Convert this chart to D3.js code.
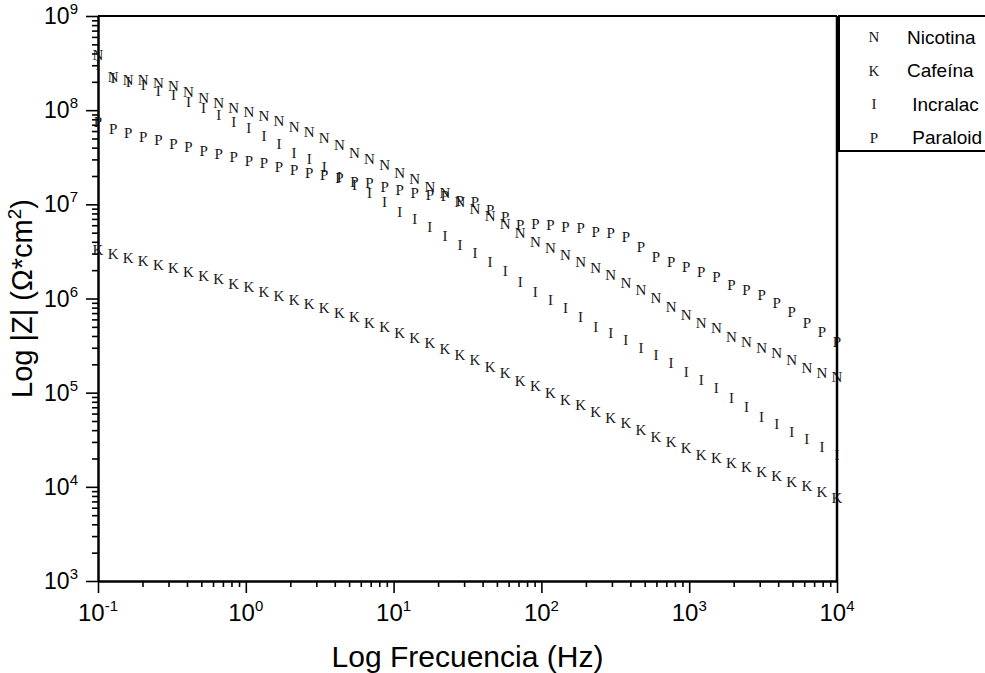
<!DOCTYPE html>
<html>
<head>
<meta charset="utf-8">
<script src="https://cdn.jsdelivr.net/npm/d3@7"></script>
<style>
  body { margin: 0; background: #fff; }
  svg { display: block; }
  .lbl { font-family: "Liberation Sans", Arial, sans-serif; fill: #000; }
  .mk { font-family: "Liberation Serif", "Times New Roman", serif; fill: #161616; }
</style>
</head>
<body>
<div id="chart"></div>
<script>
  // Frecuencias (Hz), 50 puntos logaritmicos de 0.1 a 10 kHz
  const frequencies = [
    0.1, 0.1265, 0.160, 0.2024, 0.256, 0.3237, 0.4095, 0.518, 0.6551, 0.8286,
    1.048, 1.326, 1.677, 2.121, 2.683, 3.393, 4.292, 5.429, 6.866, 8.685,
    10.99, 13.89, 17.58, 22.23, 28.12, 35.56, 44.98, 56.9, 71.97, 91.03,
    115.1, 145.6, 184.2, 232.9, 294.7, 372.8, 471.5, 596.4, 754.4, 954.2,
    1207, 1526, 1931, 2442, 3089, 3907, 4942, 6251, 7906, 10000
  ]

  // |Z| (Ohm*cm2) de cada recubrimiento
  const nicotina = [
    3.86e8, 2.25e8, 2.09e8, 2.09e8, 1.94e8, 1.81e8, 1.56e8, 1.35e8, 1.19e8, 1.05e8,
    9.57e7, 8.67e7, 7.67e7, 6.63e7, 5.87e7, 5.06e7, 4.27e7, 3.51e7, 3.03e7, 2.62e7,
    2.15e7, 1.86e7, 1.53e7, 1.32e7, 1.06e7, 8.92e6, 7.52e6, 6.18e6, 4.96e6, 3.98e6,
    3.44e6, 2.90e6, 2.44e6, 2.11e6, 1.78e6, 1.46e6, 1.23e6, 1.01e6, 8.12e5, 6.68e5,
    5.50e5, 4.86e5, 3.90e5, 3.45e5, 2.98e5, 2.64e5, 2.22e5, 1.83e5, 1.62e5, 1.47e5
  ]
  const cafeina = [
    3.27e6, 2.97e6, 2.69e6, 2.50e6, 2.27e6, 2.11e6, 1.91e6, 1.73e6, 1.61e6, 1.43e6,
    1.32e6, 1.17e6, 1.06e6, 9.64e5, 8.75e5, 7.93e5, 7.02e5, 6.37e5, 5.50e5, 4.98e5,
    4.31e5, 3.81e5, 3.37e5, 2.91e5, 2.51e5, 2.22e5, 1.87e5, 1.62e5, 1.33e5, 1.18e5,
    9.93e4, 8.36e4, 7.40e4, 6.24e4, 5.38e4, 4.76e4, 4.02e4, 3.38e4, 2.99e4, 2.59e4,
    2.18e4, 2.02e4, 1.79e4, 1.63e4, 1.44e4, 1.30e4, 1.13e4, 1.02e4, 8.81e3, 7.62e3
  ]
  const incralac = [
    3.02e8, 2.20e8, 1.99e8, 1.85e8, 1.60e8, 1.45e8, 1.22e8, 1.05e8, 8.89e7, 7.48e7,
    6.47e7, 5.32e7, 4.37e7, 3.51e7, 3.03e7, 2.49e7, 1.95e7, 1.60e7, 1.32e7, 1.06e7,
    8.29e6, 6.99e6, 5.74e6, 4.61e6, 3.70e6, 3.04e6, 2.44e6, 1.96e6, 1.50e6, 1.17e6,
    9.64e5, 7.93e5, 6.37e5, 4.99e5, 4.31e5, 3.62e5, 2.98e5, 2.51e5, 2.07e5, 1.66e5,
    1.36e5, 1.12e5, 8.79e4, 7.06e4, 5.53e4, 4.65e4, 3.82e4, 3.22e4, 2.65e4, 2.18e4
  ]
  const paraloid = [
    7.48e7, 6.31e7, 5.72e7, 5.19e7, 4.82e7, 4.37e7, 4.06e7, 3.68e7, 3.42e7, 3.18e7,
    2.89e7, 2.75e7, 2.49e7, 2.32e7, 2.15e7, 2.05e7, 1.91e7, 1.73e7, 1.69e7, 1.53e7,
    1.42e7, 1.32e7, 1.26e7, 1.23e7, 1.08e7, 1.06e7, 8.71e6, 7.35e6, 6.04e6, 6.18e6,
    6.04e6, 5.74e6, 5.61e6, 5.08e6, 4.96e6, 4.50e6, 3.52e6, 2.76e6, 2.44e6, 2.16e6,
    1.91e6, 1.69e6, 1.39e6, 1.23e6, 1.09e6, 8.95e5, 7.19e5, 5.50e5, 4.41e5, 3.45e5
  ]

  const seriesNames = ['Nicotina', 'Cafeína', ' Incralac', ' Paraloid']
  const seriesSymbols = ['N', 'K', 'I', 'P']
  const seriesValues = [nicotina, cafeina, incralac, paraloid]

  const xMajor = [0.1, 1, 10, 100, 1000, 10000]
  const xExponents = ['-1', '0', '1', '2', '3', '4']
  const yMajor = [1e3, 1e4, 1e5, 1e6, 1e7, 1e8, 1e9]
  const yExponents = ['3', '4', '5', '6', '7', '8', '9']

  const width = 985, height = 673
  const margin = { top: 16, right: 148, bottom: 92, left: 98 }

  const svg = d3.select('#chart').append('svg')
    .attr('width', width)
    .attr('height', height)

  const x = d3.scaleLog()
    .domain([0.1, 1e4])
    .range([margin.left, width - margin.right])

  const y = d3.scaleLog()
    .domain([1e3, 1e9])
    .range([height - margin.bottom, margin.top])

  const isMinor = v => Math.abs(Math.log10(v) - Math.round(Math.log10(v))) > 1e-6
  const xMinor = x.ticks().filter(isMinor)
  const yMinor = y.ticks().filter(isMinor)

  const styleAxis = g => {
    g.selectAll('path').attr('stroke', '#000').attr('stroke-width', 2)
    g.selectAll('line').attr('stroke', '#000').attr('stroke-width', 1.6)
  }

  // Eje X: ticks mayores y menores
  svg.append('g')
    .attr('transform', `translate(0,${y.range()[0]})`)
    .call(d3.axisBottom(x).tickValues(xMinor).tickSize(6).tickSizeOuter(0).tickFormat(''))
    .call(styleAxis)
  svg.append('g')
    .attr('transform', `translate(0,${y.range()[0]})`)
    .call(d3.axisBottom(x).tickValues(xMajor).tickSize(12).tickSizeOuter(0).tickFormat(''))
    .call(styleAxis)

  // Eje Y
  svg.append('g')
    .attr('transform', `translate(${x.range()[0]},0)`)
    .call(d3.axisLeft(y).tickValues(yMinor).tickSize(6).tickSizeOuter(0).tickFormat(''))
    .call(styleAxis)
  svg.append('g')
    .attr('transform', `translate(${x.range()[0]},0)`)
    .call(d3.axisLeft(y).tickValues(yMajor).tickSize(12).tickSizeOuter(0).tickFormat(''))
    .call(styleAxis)

  // Etiquetas 10^n del eje X
  const xl = svg.append('g').selectAll('text')
    .data(xMajor)
    .join('text')
    .attr('class', 'lbl')
    .attr('x', d => x(d))
    .attr('y', 621)
    .attr('text-anchor', 'middle')
    .attr('font-size', 24)
  xl.append('tspan').text('10')
  xl.append('tspan').attr('dy', -10).attr('font-size', 15).text((d, i) => xExponents[i])

  // Etiquetas 10^n del eje Y
  const yl = svg.append('g').selectAll('text')
    .data(yMajor)
    .join('text')
    .attr('class', 'lbl')
    .attr('x', 78)
    .attr('y', d => y(d) + 8)
    .attr('text-anchor', 'end')
    .attr('font-size', 23)
  yl.append('tspan').text('10')
  yl.append('tspan').attr('dy', -10).attr('font-size', 15).text((d, i) => yExponents[i])

  // Titulos de ejes
  svg.append('text')
    .attr('class', 'lbl')
    .attr('x', (x.range()[0] + x.range()[1]) / 2)
    .attr('y', 667)
    .attr('text-anchor', 'middle')
    .attr('font-size', 30)
    .text('Log Frecuencia (Hz)')

  const yt = svg.append('text')
    .attr('class', 'lbl')
    .attr('transform', `translate(32,${(y.range()[0] + y.range()[1]) / 2}) rotate(-90)`)
    .attr('text-anchor', 'middle')
    .attr('font-size', 29)
  yt.append('tspan').text('Log |Z| (Ω*cm')
  yt.append('tspan').attr('dy', -11).attr('font-size', 19).text('2')
  yt.append('tspan').attr('dy', 11).text(')')

  // Marcadores con letras
  seriesValues.forEach((vals, s) => {
    svg.append('g')
      .selectAll('text')
      .data(vals.map((v, i) => ({ f: frequencies[i], z: v })))
      .join('text')
      .attr('class', 'mk')
      .attr('x', d => x(d.f))
      .attr('y', d => y(d.z))
      .attr('dy', '0.34em')
      .attr('text-anchor', 'middle')
      .attr('font-size', 15)
      .text(seriesSymbols[s])
  })

  // Marco superior y derecho (encima de los marcadores)
  svg.append('line')
    .attr('x1', x.range()[0]).attr('x2', x.range()[1])
    .attr('y1', y.range()[1]).attr('y2', y.range()[1])
    .attr('stroke', '#000').attr('stroke-width', 2)
  svg.append('line')
    .attr('x1', x.range()[1]).attr('x2', x.range()[1])
    .attr('y1', y.range()[1]).attr('y2', y.range()[0])
    .attr('stroke', '#000').attr('stroke-width', 2.5)

  // Leyenda
  const legend = svg.append('g')
  legend.append('rect')
    .attr('x', 839).attr('y', 16)
    .attr('width', 160).attr('height', 135)
    .attr('fill', '#fff')
    .attr('stroke', '#000').attr('stroke-width', 2)

  const rows = legend.selectAll('g.row')
    .data(seriesNames)
    .join('g')
    .attr('class', 'row')
    .attr('transform', (d, i) => `translate(0,${37 + i * 33.6})`)
  rows.append('text')
    .attr('class', 'mk')
    .attr('x', 874)
    .attr('dy', '0.34em')
    .attr('text-anchor', 'middle')
    .attr('font-size', 15)
    .text((d, i) => seriesSymbols[i])
  rows.append('text')
    .attr('class', 'lbl')
    .attr('x', 907)
    .attr('dy', '0.35em')
    .attr('font-size', 19)
    .style('white-space', 'pre')
    .text(d => d)
</script>
</body>
</html>
